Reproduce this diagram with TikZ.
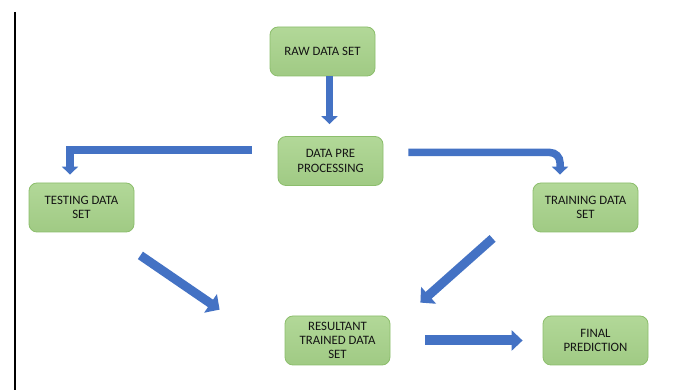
\documentclass[tikz,border=0pt]{standalone}
\usepackage{fontspec}
\setmainfont{Carlito}
\usetikzlibrary{arrows.meta}
\definecolor{boxtop}{RGB}{178,216,152}
\definecolor{boxbot}{RGB}{160,202,132}
\definecolor{boxline}{RGB}{140,190,108}
\definecolor{arrowblue}{RGB}{68,114,196}
\definecolor{txt}{RGB}{20,20,20}
\tikzset{
  box/.style={draw=boxline, line width=0.8pt, rounded corners=8pt,
    top color=boxtop, bottom color=boxbot,
    minimum width=105pt, minimum height=49pt, inner sep=2pt,
    align=center, text=txt, font=\fontsize{12.8}{14.3}\selectfont},
  blockarrow/.style={draw=arrowblue, line width=7.5pt,
    -{Triangle[width=18pt,length=9pt]}},
}
\begin{document}
\begin{tikzpicture}[x=1pt,y=-1pt]
\useasboundingbox[fill=white] (0,0) rectangle (697,390);
\coordinate (ltop) at (15,12);
\coordinate (lbot) at (15,390);
\draw[line width=1.6pt, black] (ltop) -- (lbot);

\node[box] (raw) at (322.5,51.5) {RAW DATA SET};
\node[box] (pre) at (330.5,161) {DATA PRE\\PROCESSING};
\node[box] (test) at (81.5,207.5) {TESTING DATA\\SET};
\node[box] (train) at (585.5,207.5) {TRAINING DATA\\SET};
\node[box] (res) at (337.5,340.5) {RESULTANT\\TRAINED DATA\\SET};
\node[box] (final) at (595.5,340.5) {FINAL\\PREDICTION};

\draw[blockarrow, -{Triangle[width=16pt,length=8pt]}, line width=7pt, shorten >=12pt]
  ([xshift=-1pt]pre.north |- raw.south) -- ([xshift=-1pt]pre.north);
\draw[blockarrow, -{Triangle[width=16pt,length=8pt]}, shorten >=8pt]
  ([xshift=-26pt,yshift=11pt]pre.west) -| ([xshift=-11.5pt]test.north);
\draw[blockarrow, -{Triangle[width=16pt,length=8pt]}, rounded corners=10pt, shorten >=8pt]
  ([xshift=25pt,yshift=8.5pt]pre.east) -| ([xshift=-25.5pt]train.north);
\draw[blockarrow, line width=9pt, -{Triangle[width=22pt,length=11pt]}]
  ([xshift=6pt,yshift=-23pt]test.south east) -- ([xshift=-65pt,yshift=6pt]res.north west);
\draw[blockarrow, line width=9pt, -{Triangle[width=22pt,length=11pt]}]
  ([xshift=-40pt,yshift=-6pt]train.south west) -- ([xshift=30pt,yshift=13pt]res.north east);
\draw[blockarrow, line width=10pt, -{Triangle[width=20pt,length=11pt]}, shorten <=35pt, shorten >=20pt]
  (res.east) -- (final.west);
\end{tikzpicture}
\end{document}
